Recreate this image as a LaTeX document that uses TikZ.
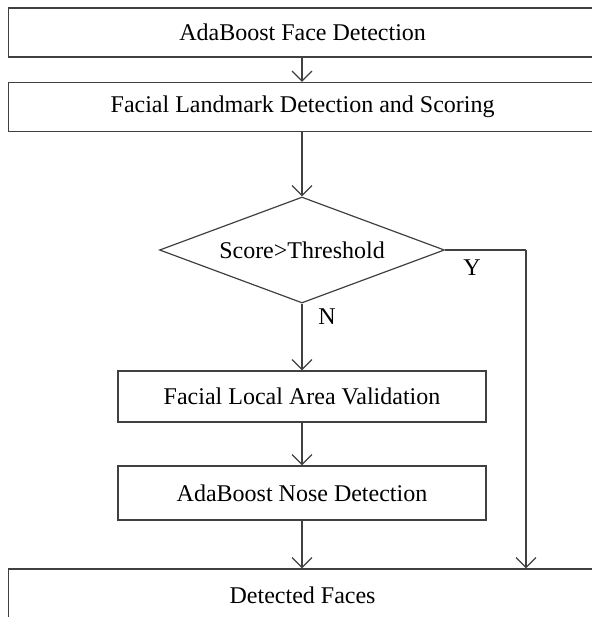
\documentclass[tikz,border=0pt]{standalone}
\usepackage{fontspec}
\setmainfont{Liberation Serif}
\usetikzlibrary{shapes.geometric,arrows.meta}
\begin{document}
\begin{tikzpicture}[
    x=0.5pt, y=-0.5pt,
    font=\fontsize{12}{14}\selectfont,
    box/.style={rectangle, draw=black!75, line width=0.6pt, minimum width=184pt, minimum height=25.5pt, inner sep=0pt, align=center},
    widebox/.style={box, anchor=west, minimum width=320pt, minimum height=24.5pt},
    boxtext/.style={label={[xshift=-13pt]center:#1}},
    decision/.style={diamond, draw=black!75, line width=0.6pt, minimum width=142.5pt, minimum height=53pt, shape aspect=2.69, inner sep=0pt},
    arrow/.style={-{Straight Barb[length=5pt,width=10pt,line width=0.6pt]}, draw=black!75, line width=0.6pt},
    line/.style={draw=black!75, line width=0.6pt}
]
\useasboundingbox (0,0) rectangle (591,617);

% boxes that run off the right edge
\node[widebox, boxtext=AdaBoost Face Detection] (face) at (8,32.5) {};
\node[widebox, boxtext=Facial Landmark Detection and Scoring] (landmark) at (8,107) {};
\node[widebox, minimum height=26pt, boxtext=Detected Faces] (faces) at (8,595) {};

\node[decision] (score) at (302,250) {Score>Threshold};
\node[box] (local) at (302,396.5) {Facial Local Area Validation};
\node[box, minimum height=27pt] (nose) at (302,493) {AdaBoost Nose Detection};

\coordinate (ycorner) at (526,250);
\node (yes) at (472,268) {Y};
\node (no) at (327,317) {N};

\draw[arrow] (face.south -| score) -- (landmark.north -| score);
\draw[arrow] (landmark.south -| score) -- (score);
\draw[arrow] (score) -- (local);
\draw[arrow] (local) -- (nose);
\draw[arrow] (nose) -- (nose |- faces.north);
\draw[line] (score.east) -- (ycorner);
\draw[arrow] (ycorner) -- (ycorner |- faces.north);

\end{tikzpicture}
\end{document}
